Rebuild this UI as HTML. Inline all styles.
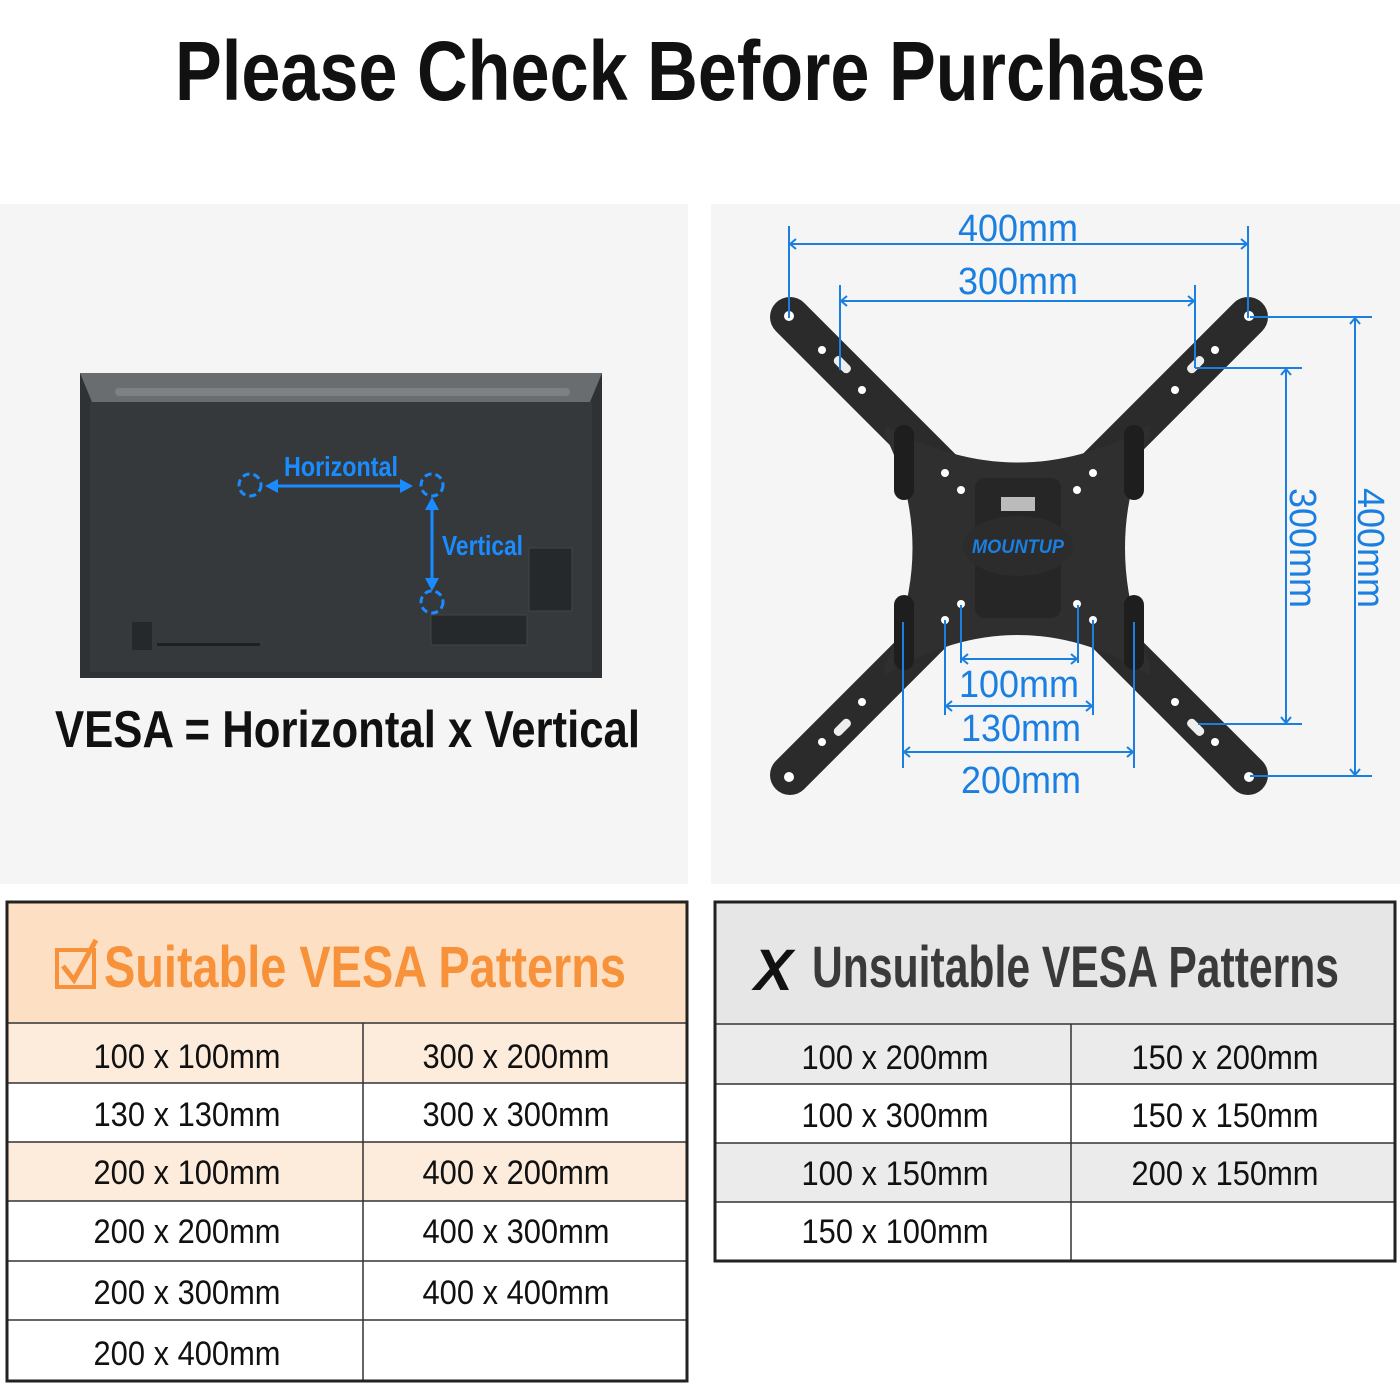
<!DOCTYPE html>
<html><head><meta charset="utf-8"><style>
html,body{margin:0;padding:0;background:#fff}
svg{display:block}
text{font-family:"Liberation Sans Narrow","Liberation Sans",sans-serif;font-weight:bold}
.t{font-family:"Liberation Sans Narrow","Liberation Sans",sans-serif;font-weight:normal;font-size:34px;fill:#111}
.b{fill:#1a7fe0}
</style></head><body>
<svg width="1400" height="1400" viewBox="0 0 1400 1400">
<rect width="1400" height="1400" fill="#fff"/>
<text x="690" y="100" font-size="84" text-anchor="middle" textLength="1030" lengthAdjust="spacingAndGlyphs" fill="#111">Please Check Before Purchase</text>

<rect x="0" y="204" width="688" height="680" fill="#f5f5f5"/>
<rect x="711" y="204" width="689" height="680" fill="#f5f5f5"/>

<!-- TV -->
<rect x="80" y="373" width="522" height="305" fill="#2e3235"/>
<polygon points="80,373 602,373 590,402 92,402" fill="#6a6d70"/>
<rect x="115" y="388" width="455" height="8" rx="4" fill="#7e8184"/>
<rect x="90" y="402" width="502" height="270" fill="#35393c"/>
<rect x="529" y="548" width="43" height="63" fill="#26292b" stroke="#444" stroke-width="1"/>
<rect x="431" y="615" width="96" height="30" fill="#26292b" stroke="#444" stroke-width="1"/>
<rect x="132" y="622" width="20" height="28" fill="#26292b"/>
<rect x="157" y="643" width="103" height="3" fill="#1e2022"/>
<g stroke="#1a8cff" stroke-width="3" fill="none" stroke-dasharray="7 4">
<circle cx="250" cy="485" r="11"/><circle cx="432" cy="485" r="11"/><circle cx="432" cy="602" r="11"/></g>
<g stroke="#1a8cff" stroke-width="3"><line x1="272" y1="486" x2="406" y2="486"/><line x1="432" y1="504" x2="432" y2="584"/></g>
<g fill="#1a8cff"><polygon points="265,486 278,479 278,493"/><polygon points="413,486 400,479 400,493"/><polygon points="432,497 425,510 439,510"/><polygon points="432,591 425,578 439,578"/></g>
<text x="284" y="476" font-size="28" textLength="114" lengthAdjust="spacingAndGlyphs" fill="#1a8cff">Horizontal</text>
<text x="442" y="555" font-size="28" textLength="81" lengthAdjust="spacingAndGlyphs" fill="#1a8cff">Vertical</text>
<text x="55" y="747" font-size="52" textLength="585" lengthAdjust="spacingAndGlyphs" fill="#111">VESA = Horizontal x Vertical</text>

<!-- Mount -->
<g stroke="#2b2b2b" stroke-width="40" stroke-linecap="round">
<line x1="790" y1="317" x2="1248" y2="775"/><line x1="1248" y1="317" x2="790" y2="775"/></g>
<path d="M885,425 Q1018,500 1150,425 L1150,435 Q1100,546 1150,665 L1150,675 Q1018,595 885,675 L885,665 Q940,546 885,435 Z" fill="#2f2f2f"/>
<rect x="975" y="478" width="86" height="140" rx="10" fill="#262626"/>
<ellipse cx="1018" cy="546" rx="55" ry="30" fill="#2c2c2c"/>
<text x="1018" y="553" font-size="19" text-anchor="middle" font-style="italic" fill="#1a7fe0" textLength="92" lengthAdjust="spacingAndGlyphs">MOUNTUP</text>
<rect x="1001" y="497" width="34" height="14" fill="#bbb"/>
<g fill="#1e1e1e"><rect x="894" y="425" width="20" height="75" rx="10"/><rect x="1124" y="425" width="20" height="75" rx="10"/><rect x="894" y="595" width="20" height="75" rx="10"/><rect x="1124" y="595" width="20" height="75" rx="10"/></g>
<g fill="#fff">
<circle cx="789" cy="316" r="5"/><circle cx="1249" cy="316" r="5"/><circle cx="789" cy="777" r="5"/><circle cx="1249" cy="777" r="5"/>
<circle cx="822" cy="350" r="4"/><circle cx="862" cy="390" r="4"/><circle cx="1215" cy="350" r="4"/><circle cx="1175" cy="390" r="4"/>
<circle cx="822" cy="742" r="4"/><circle cx="862" cy="702" r="4"/><circle cx="1215" cy="742" r="4"/><circle cx="1175" cy="702" r="4"/>
<circle cx="945" cy="473" r="4"/><circle cx="961" cy="490" r="4"/><circle cx="1093" cy="473" r="4"/><circle cx="1077" cy="490" r="4"/>
<circle cx="945" cy="620" r="4"/><circle cx="961" cy="604" r="4"/><circle cx="1093" cy="620" r="4"/><circle cx="1077" cy="604" r="4"/>
</g>
<g fill="#eee"><rect x="832" y="360" width="20" height="9" rx="4" transform="rotate(45 842 365)"/><rect x="1186" y="360" width="20" height="9" rx="4" transform="rotate(-45 1196 365)"/><rect x="832" y="723" width="20" height="9" rx="4" transform="rotate(-45 842 727)"/><rect x="1186" y="723" width="20" height="9" rx="4" transform="rotate(45 1196 727)"/></g>

<!-- dimension lines -->
<g stroke="#1a7fe0" stroke-width="2" fill="none">
<line x1="789" y1="226" x2="789" y2="318"/><line x1="1248" y1="226" x2="1248" y2="318"/><line x1="790" y1="244" x2="1247" y2="244"/>
<line x1="840" y1="285" x2="840" y2="370"/><line x1="1195" y1="285" x2="1195" y2="368"/><line x1="841" y1="301" x2="1194" y2="301"/>
<line x1="1195" y1="368" x2="1302" y2="368"/><line x1="1198" y1="724" x2="1302" y2="724"/><line x1="1286" y1="369" x2="1286" y2="723"/>
<line x1="1250" y1="317" x2="1372" y2="317"/><line x1="1250" y1="776" x2="1372" y2="776"/><line x1="1355" y1="318" x2="1355" y2="775"/>
<line x1="961" y1="605" x2="961" y2="663"/><line x1="1078" y1="605" x2="1078" y2="663"/><line x1="962" y1="659" x2="1077" y2="659"/>
<line x1="945" y1="620" x2="945" y2="715"/><line x1="1093" y1="620" x2="1093" y2="715"/><line x1="946" y1="706" x2="1092" y2="706"/>
<line x1="903" y1="622" x2="903" y2="768"/><line x1="1134" y1="622" x2="1134" y2="768"/><line x1="904" y1="752" x2="1133" y2="752"/>
<polyline points="796,239 790,244 796,249"/><polyline points="1241,239 1247,244 1241,249"/>
<polyline points="847,296 841,301 847,306"/><polyline points="1188,296 1194,301 1188,306"/>
<polyline points="1281,375 1286,369 1291,375"/><polyline points="1281,717 1286,723 1291,717"/>
<polyline points="1350,324 1355,318 1360,324"/><polyline points="1350,769 1355,775 1360,769"/>
<polyline points="968,654 962,659 968,664"/><polyline points="1071,654 1077,659 1071,664"/>
<polyline points="952,701 946,706 952,711"/><polyline points="1086,701 1092,706 1086,711"/>
<polyline points="910,747 904,752 910,757"/><polyline points="1127,747 1133,752 1127,757"/>
</g>
<g font-size="38" class="b" text-anchor="middle">
<text x="1018" y="241" style="font-weight:normal" textLength="120" lengthAdjust="spacingAndGlyphs">400mm</text>
<text x="1018" y="294" style="font-weight:normal" textLength="120" lengthAdjust="spacingAndGlyphs">300mm</text>
<text x="1019" y="697" style="font-weight:normal" textLength="120" lengthAdjust="spacingAndGlyphs">100mm</text>
<text x="1021" y="741" style="font-weight:normal" textLength="120" lengthAdjust="spacingAndGlyphs">130mm</text>
<text x="1021" y="793" style="font-weight:normal" textLength="120" lengthAdjust="spacingAndGlyphs">200mm</text>
<text transform="translate(1290,548) rotate(90)" style="font-weight:normal" textLength="120" lengthAdjust="spacingAndGlyphs">300mm</text>
<text transform="translate(1358,548) rotate(90)" style="font-weight:normal" textLength="120" lengthAdjust="spacingAndGlyphs">400mm</text>
</g>

<!-- Left table -->
<rect x="7" y="903" width="680" height="120" fill="#fde0c4"/>
<rect x="7" y="1023" width="680" height="60" fill="#fdebdc"/>
<rect x="7" y="1142" width="680" height="59" fill="#fdebdc"/>
<g stroke="#333" stroke-width="1.5">
<line x1="7" y1="1023" x2="687" y2="1023"/><line x1="7" y1="1083" x2="687" y2="1083"/><line x1="7" y1="1142" x2="687" y2="1142"/><line x1="7" y1="1201" x2="687" y2="1201"/><line x1="7" y1="1261" x2="687" y2="1261"/><line x1="7" y1="1320" x2="687" y2="1320"/>
<line x1="363" y1="1023" x2="363" y2="1380"/></g>
<rect x="7" y="902" width="680" height="479" fill="none" stroke="#222" stroke-width="3"/>
<rect x="57" y="950" width="37" height="37" fill="none" stroke="#f7923a" stroke-width="4"/>
<polyline points="63,966 74,980 96,940" fill="none" stroke="#f7923a" stroke-width="5"/>
<text x="104" y="987" font-size="58" textLength="522" lengthAdjust="spacingAndGlyphs" fill="#f7923a">Suitable VESA Patterns</text>
<g text-anchor="middle">
<text x="187" y="1068" class="t" textLength="187" lengthAdjust="spacingAndGlyphs">100 x 100mm</text><text x="516" y="1068" class="t" textLength="187" lengthAdjust="spacingAndGlyphs">300 x 200mm</text>
<text x="187" y="1126" class="t" textLength="187" lengthAdjust="spacingAndGlyphs">130 x 130mm</text><text x="516" y="1126" class="t" textLength="187" lengthAdjust="spacingAndGlyphs">300 x 300mm</text>
<text x="187" y="1184" class="t" textLength="187" lengthAdjust="spacingAndGlyphs">200 x 100mm</text><text x="516" y="1184" class="t" textLength="187" lengthAdjust="spacingAndGlyphs">400 x 200mm</text>
<text x="187" y="1243" class="t" textLength="187" lengthAdjust="spacingAndGlyphs">200 x 200mm</text><text x="516" y="1243" class="t" textLength="187" lengthAdjust="spacingAndGlyphs">400 x 300mm</text>
<text x="187" y="1304" class="t" textLength="187" lengthAdjust="spacingAndGlyphs">200 x 300mm</text><text x="516" y="1304" class="t" textLength="187" lengthAdjust="spacingAndGlyphs">400 x 400mm</text>
<text x="187" y="1365" class="t" textLength="187" lengthAdjust="spacingAndGlyphs">200 x 400mm</text>
</g>

<!-- Right table -->
<rect x="715" y="903" width="680" height="121" fill="#e6e6e6"/>
<rect x="715" y="1024" width="680" height="60" fill="#ebebeb"/>
<rect x="715" y="1143" width="680" height="59" fill="#ebebeb"/>
<g stroke="#333" stroke-width="1.5">
<line x1="715" y1="1024" x2="1395" y2="1024"/><line x1="715" y1="1084" x2="1395" y2="1084"/><line x1="715" y1="1143" x2="1395" y2="1143"/><line x1="715" y1="1202" x2="1395" y2="1202"/>
<line x1="1071" y1="1024" x2="1071" y2="1261"/></g>
<rect x="715" y="902" width="680" height="359" fill="none" stroke="#222" stroke-width="3"/>
<text x="754" y="990" font-size="58" font-style="italic" fill="#111">X</text>
<text x="812" y="987" font-size="58" textLength="527" lengthAdjust="spacingAndGlyphs" fill="#3a3a3a">Unsuitable VESA Patterns</text>
<g text-anchor="middle">
<text x="895" y="1069" class="t" textLength="187" lengthAdjust="spacingAndGlyphs">100 x 200mm</text><text x="1225" y="1069" class="t" textLength="187" lengthAdjust="spacingAndGlyphs">150 x 200mm</text>
<text x="895" y="1127" class="t" textLength="187" lengthAdjust="spacingAndGlyphs">100 x 300mm</text><text x="1225" y="1127" class="t" textLength="187" lengthAdjust="spacingAndGlyphs">150 x 150mm</text>
<text x="895" y="1185" class="t" textLength="187" lengthAdjust="spacingAndGlyphs">100 x 150mm</text><text x="1225" y="1185" class="t" textLength="187" lengthAdjust="spacingAndGlyphs">200 x 150mm</text>
<text x="895" y="1243" class="t" textLength="187" lengthAdjust="spacingAndGlyphs">150 x 100mm</text>
</g>
</svg>
</body></html>
